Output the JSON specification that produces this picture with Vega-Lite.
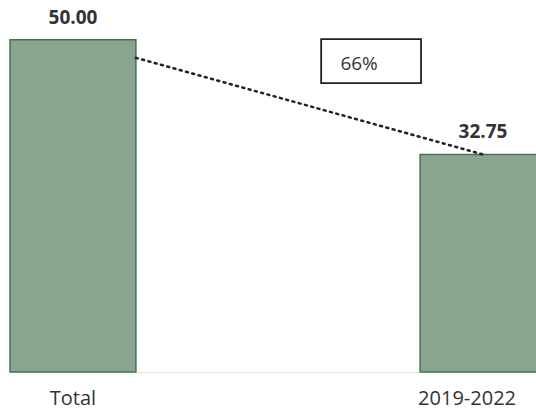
{
  "$schema": "https://vega.github.io/schema/vega-lite/v6.json",
  "width": 536,
  "height": 372,
  "padding": {"left": 0, "top": 0, "right": 0, "bottom": 41},
  "autosize": {"type": "none"},
  "background": "white",
  "config": {"view": {"stroke": null}, "font": "Open Sans"},
  "datasets": {
    "bars": [
      {"label": "Total", "value": 50},
      {"label": "2019-2022", "value": 32.75}
    ],
    "link": [
      {"from": "Total", "to": "2019-2022", "start": 47.3, "end": 32.75}
    ],
    "note": [
      {"at": "2019-2022", "level": 46.8, "text": "66%"}
    ]
  },
  "layer": [
    {
      "data": {"name": "bars"},
      "mark": {"type": "bar", "fill": "#89a48f", "stroke": "#3f7550", "strokeWidth": 1.5},
      "encoding": {
        "x": {
          "field": "label", "type": "nominal",
          "scale": {"domain": ["Total", "2019-2022"], "range": [10, 546], "paddingInner": 0.693, "paddingOuter": 0},
          "axis": {"title": null, "labelAngle": 0, "ticks": false, "domain": true, "domainColor": "#e6e6e6", "labelFontSize": 20, "labelColor": "#333333", "labelPadding": 16, "labelFont": "Open Sans",
            "labelOffset": {"condition": {"test": "datum.value === '2019-2022'", "value": -16}, "value": 0}}
        },
        "y": {"field": "value", "type": "quantitative", "scale": {"domain": [0, 56], "nice": false, "zero": true}, "axis": null}
      }
    },
    {
      "data": {"name": "bars"},
      "mark": {"type": "text", "fontWeight": "bold", "fontSize": 19, "color": "#333333", "baseline": "alphabetic", "dy": -16},
      "encoding": {
        "x": {"field": "label", "type": "nominal"},
        "y": {"field": "value", "type": "quantitative"},
        "text": {"field": "value", "type": "quantitative", "format": ".2f"}
      }
    },
    {
      "data": {"name": "link"},
      "mark": {"type": "rule", "color": "#222222", "strokeWidth": 2.5, "strokeDash": [2, 4.5], "strokeCap": "round"},
      "encoding": {
        "x": {"field": "from", "type": "nominal", "bandPosition": 1},
        "x2": {"field": "to"},
        "y": {"field": "start", "type": "quantitative"},
        "y2": {"field": "end"}
      }
    },
    {
      "data": {"name": "note"},
      "mark": {"type": "point", "shape": "M-2.27,-1H2.27V1H-2.27Z", "size": 1936, "filled": false, "stroke": "#222222", "strokeWidth": 1.8, "opacity": 1, "xOffset": -49},
      "encoding": {
        "x": {"field": "at", "type": "nominal", "bandPosition": 0},
        "y": {"field": "level", "type": "quantitative"}
      }
    },
    {
      "data": {"name": "note"},
      "mark": {"type": "text", "fontSize": 19, "color": "#333333", "baseline": "middle", "align": "center", "xOffset": -61, "dy": 3},
      "encoding": {
        "x": {"field": "at", "type": "nominal", "bandPosition": 0},
        "y": {"field": "level", "type": "quantitative"},
        "text": {"field": "text", "type": "nominal"}
      }
    }
  ]
}
